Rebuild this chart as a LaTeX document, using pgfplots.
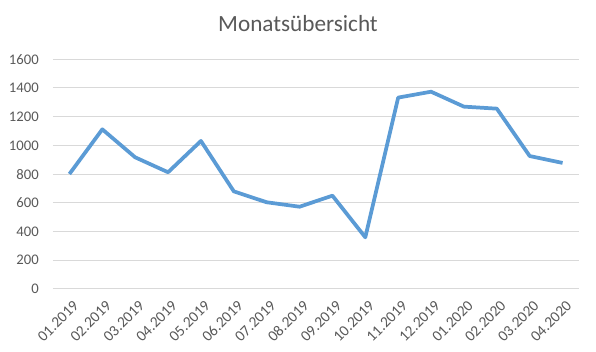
\documentclass[border=0pt]{standalone}
\usepackage{fontspec}
\setmainfont{Carlito}
\usepackage{pgfplots}
\pgfplotsset{compat=1.18}
\definecolor{txtgray}{RGB}{89,89,89}
\definecolor{gridgray}{RGB}{217,217,217}
\definecolor{lineblue}{RGB}{91,155,213}
\begin{document}
\begin{tikzpicture}
\useasboundingbox (0,0) rectangle (447pt,264pt);
\node[font=\fontsize{17.4}{20}\selectfont, text=txtgray] at (223.5pt,246pt) {Monatsübersicht};
\begin{axis}[
  at={(39.75pt,47.25pt)}, anchor=south west,
  scale only axis, width=394.5pt, height=172.3pt,
  xmin=-0.5, xmax=15.5, ymin=0, ymax=1600,
  ytick={0,200,...,1600},
  xtick={0,...,15},
  xticklabels={01.2019,02.2019,03.2019,04.2019,05.2019,06.2019,07.2019,08.2019,09.2019,10.2019,11.2019,12.2019,01.2020,02.2020,03.2020,04.2020},
  ymajorgrids, grid style={gridgray, line width=0.75pt},
  axis line style={draw=none},
  major tick length=0pt,
  /pgf/number format/assume math mode=true,
  /pgf/number format/1000 sep={},
  tick label style={font=\fontsize{11}{13}\selectfont, text=txtgray},
  yticklabel style={anchor=east, inner sep=0pt, xshift=-10.5pt},
  xticklabel style={font=\fontsize{11.5}{13}\selectfont, rotate=45, anchor=east, inner sep=0pt, xshift=-4pt, yshift=-11pt},
]
\addplot[lineblue, line width=2.8pt, line join=round] coordinates {
(0,801) (1,1112) (2,917) (3,813) (4,1031) (5,680) (6,604) (7,573)
(8,650) (9,360) (10,1333) (11,1374) (12,1270) (13,1256) (14,926) (15,878)
};
\end{axis}
\end{tikzpicture}
\end{document}
